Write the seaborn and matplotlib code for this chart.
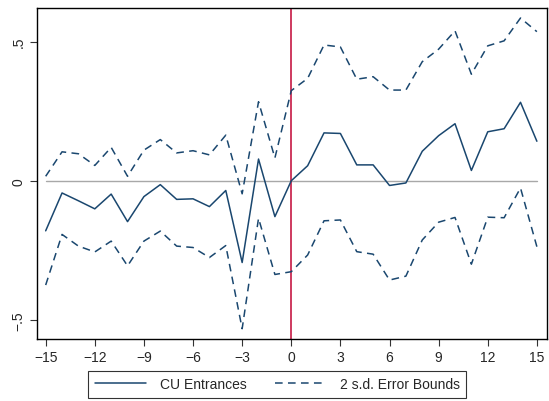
import numpy as np
import pandas as pd
import matplotlib
matplotlib.use("Agg")
import matplotlib.pyplot as plt
import seaborn as sns

# event time and estimates
event_time = list(range(-15, 16))
cu_entrances = [-0.180, -0.044, -0.072, -0.101, -0.048, -0.147, -0.057, -0.014,
                -0.067, -0.065, -0.093, -0.035, -0.294, 0.078, -0.129, 0.000,
                0.054, 0.172, 0.170, 0.057, 0.057, -0.017, -0.008, 0.106,
                0.162, 0.205, 0.037, 0.176, 0.187, 0.282, 0.142]
upper_bound = [0.016, 0.104, 0.097, 0.055, 0.120, 0.016, 0.110, 0.148,
               0.100, 0.108, 0.093, 0.164, -0.047, 0.284, 0.082, 0.324,
               0.368, 0.488, 0.481, 0.365, 0.374, 0.326, 0.326, 0.428,
               0.473, 0.539, 0.383, 0.485, 0.503, 0.585, 0.536]
lower_bound = [-0.375, -0.193, -0.235, -0.256, -0.217, -0.306, -0.217, -0.181,
               -0.235, -0.240, -0.276, -0.233, -0.532, -0.135, -0.337, -0.327,
               -0.267, -0.144, -0.141, -0.255, -0.264, -0.357, -0.343, -0.213,
               -0.149, -0.132, -0.300, -0.131, -0.133, -0.026, -0.237]

x_ticks = list(range(-15, 16, 3))
y_ticks = [-0.5, 0, 0.5]
y_tick_labels = ["\u2212.5", "0", ".5"]

navy = "#1a476f"

sns.set_style("white")
plt.rcParams["font.family"] = ["Liberation Sans", "DejaVu Sans"]

fig = plt.figure(figsize=(5.49, 4.02), dpi=100)
ax = fig.add_axes([0.0668, 0.1542, 0.9290, 0.8227])

# reference lines
ax.plot([-15, 15], [0, 0], color="#a8a8a8", lw=1.0, zorder=1)
ax.axvline(0, color="#c10534", lw=1.1, zorder=1)

df = pd.DataFrame({"t": event_time, "est": cu_entrances,
                   "hi": upper_bound, "lo": lower_bound})

sns.lineplot(data=df, x="t", y="est", ax=ax, color=navy, lw=1.1,
             label="CU Entrances", zorder=3)
sns.lineplot(data=df, x="t", y="hi", ax=ax, color=navy, lw=1.1,
             dashes=False, label="2 s.d. Error Bounds", zorder=3)
sns.lineplot(data=df, x="t", y="lo", ax=ax, color=navy, lw=1.1,
             label="_nolegend_", zorder=3)
for ln in ax.lines[-2:]:
    ln.set_dashes((5, 3.5))

ax.set_xlim(-15.55, 15.6)
ax.set_ylim(-0.569, 0.62)
ax.set_xticks(x_ticks)
ax.set_xticklabels([str(v).replace("-", "\u2212") for v in x_ticks])
ax.set_yticks(y_ticks)
ax.set_yticklabels(y_tick_labels, rotation=90, va="center")
ax.set_xlabel("")
ax.set_ylabel("")
ax.tick_params(axis="both", direction="out", length=5, width=0.8,
               color="#333333", labelsize=10, pad=3, bottom=True, left=True)

for sp in ax.spines.values():
    sp.set_color("black")
    sp.set_linewidth(1.0)

ax.legend_.remove()
handles, labels = ax.get_legend_handles_labels()
leg = fig.legend(handles[:2], labels[:2], ncol=2, loc="center",
                 bbox_to_anchor=(0.505, 0.0415), frameon=True, fancybox=False,
                 edgecolor="black", fontsize=10, handlelength=3.7,
                 columnspacing=2.0, borderpad=0.45, handletextpad=1.0)
leg.get_frame().set_linewidth(0.8)

fig.savefig("out.png", dpi=100)
